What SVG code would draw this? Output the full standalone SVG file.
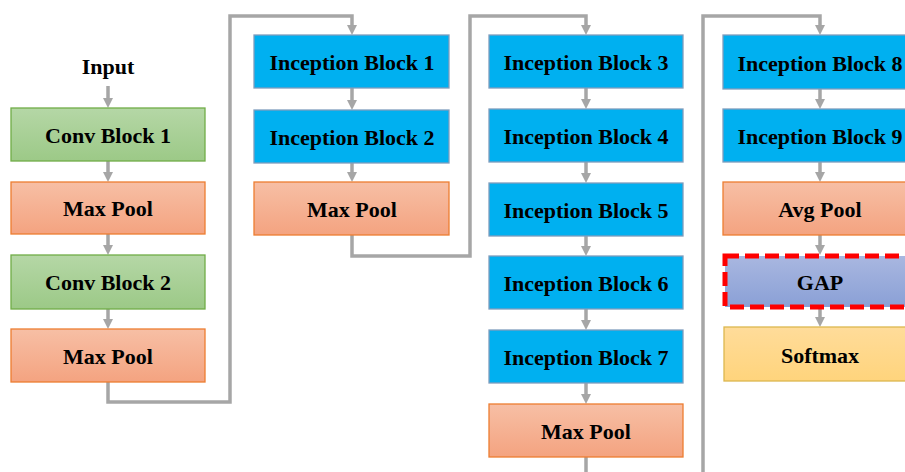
<svg xmlns="http://www.w3.org/2000/svg" width="905" height="472" viewBox="0 0 905 472">
  <defs>
    <linearGradient id="gGreen" x1="0" y1="0" x2="0" y2="1">
      <stop offset="0" stop-color="#b5d7a6"/>
      <stop offset="1" stop-color="#9cc987"/>
    </linearGradient>
    <linearGradient id="gOrange" x1="0" y1="0" x2="0" y2="1">
      <stop offset="0" stop-color="#f7bfa5"/>
      <stop offset="1" stop-color="#f4a380"/>
    </linearGradient>
    <linearGradient id="gGap" x1="0" y1="0" x2="0" y2="1">
      <stop offset="0" stop-color="#a9b7e0"/>
      <stop offset="1" stop-color="#8aa0d6"/>
    </linearGradient>
    <linearGradient id="gSoft" x1="0" y1="0" x2="0" y2="1">
      <stop offset="0" stop-color="#ffdc9a"/>
      <stop offset="1" stop-color="#ffd47c"/>
    </linearGradient>
    <marker id="arrow" markerUnits="userSpaceOnUse" markerWidth="10" markerHeight="10" refX="0" refY="5" orient="auto">
      <path d="M0,0 L10,5 L0,10 z" fill="#a6a6a6"/>
    </marker>
  </defs>
  <style>
    text { font-family: "Liberation Serif", "Times New Roman", serif; font-weight: bold; font-size: 22px; fill: #000; text-anchor: middle; }
    .conv { fill: url(#gGreen); stroke: #70ad47; stroke-width: 1.3; }
    .pool { fill: url(#gOrange); stroke: #ed7d31; stroke-width: 1.3; }
    .incep { fill: #00b0f0; stroke: #7f9dbd; stroke-width: 1.3; }
    .gap { fill: url(#gGap); stroke: #ff0000; stroke-width: 5; stroke-dasharray: 14 6; }
    .soft { fill: url(#gSoft); stroke: #dcb74f; stroke-width: 1.3; }
    .link { fill: none; stroke: #a6a6a6; stroke-width: 3.5; }
    .arr { marker-end: url(#arrow); }
  </style>

  <!-- connectors -->
  <g id="connectors">
    <path class="link arr" d="M108,86 V98"/>
    <path class="link arr" d="M108,161 V172"/>
    <path class="link arr" d="M108,234 V245"/>
    <path class="link arr" d="M108,309 V319"/>
    <path class="link arr" d="M108,382 V402 H230 V16 H352 V25"/>
    <path class="link arr" d="M352,88 V100"/>
    <path class="link arr" d="M352,163 V172"/>
    <path class="link arr" d="M352,235 V256 H470 V16 H586 V25"/>
    <path class="link arr" d="M586,88 V99"/>
    <path class="link arr" d="M586,162 V173"/>
    <path class="link arr" d="M586,236 V246"/>
    <path class="link arr" d="M586,309 V320"/>
    <path class="link arr" d="M586,383 V394"/>
    <path class="link" d="M586,457 V472"/>
    <path class="link arr" d="M703,472 V16 H820 V25"/>
    <path class="link arr" d="M820,89 V99"/>
    <path class="link arr" d="M820,162 V172"/>
    <path class="link arr" d="M820,235 V245"/>
    <path class="link arr" d="M820,307 V317"/>
  </g>

  <!-- column 1 -->
  <g id="input"><text x="108" y="74">Input</text></g>
  <g id="conv1"><rect class="conv" x="11" y="108" width="194" height="53"/><text x="108" y="143">Conv Block 1</text></g>
  <g id="pool1"><rect class="pool" x="11" y="182" width="194" height="52"/><text x="108" y="216">Max Pool</text></g>
  <g id="conv2"><rect class="conv" x="11" y="255" width="194" height="54"/><text x="108" y="290">Conv Block 2</text></g>
  <g id="pool2"><rect class="pool" x="11" y="329" width="194" height="53"/><text x="108" y="364">Max Pool</text></g>

  <!-- column 2 -->
  <g id="incep1"><rect class="incep" x="254" y="35" width="195" height="53"/><text x="352" y="70">Inception Block 1</text></g>
  <g id="incep2"><rect class="incep" x="254" y="110" width="195" height="53"/><text x="352" y="145">Inception Block 2</text></g>
  <g id="pool3"><rect class="pool" x="254" y="182" width="195" height="53"/><text x="352" y="217">Max Pool</text></g>

  <!-- column 3 -->
  <g id="incep3"><rect class="incep" x="489" y="35" width="194" height="53"/><text x="586" y="70">Inception Block 3</text></g>
  <g id="incep4"><rect class="incep" x="489" y="109" width="194" height="53"/><text x="586" y="144">Inception Block 4</text></g>
  <g id="incep5"><rect class="incep" x="489" y="183" width="194" height="53"/><text x="586" y="218">Inception Block 5</text></g>
  <g id="incep6"><rect class="incep" x="489" y="256" width="194" height="53"/><text x="586" y="291">Inception Block 6</text></g>
  <g id="incep7"><rect class="incep" x="489" y="330" width="194" height="53"/><text x="586" y="365">Inception Block 7</text></g>
  <g id="pool4"><rect class="pool" x="489" y="404" width="194" height="53"/><text x="586" y="439">Max Pool</text></g>

  <!-- column 4 -->
  <g id="incep8"><rect class="incep" x="723" y="35" width="194" height="54"/><text x="820" y="71">Inception Block 8</text></g>
  <g id="incep9"><rect class="incep" x="723" y="109" width="194" height="53"/><text x="820" y="144">Inception Block 9</text></g>
  <g id="avgpool"><rect class="pool" x="723" y="182" width="194" height="53"/><text x="820" y="217">Avg Pool</text></g>
  <g id="gap"><rect class="gap" x="725" y="256" width="194" height="51"/><text x="820" y="290">GAP</text></g>
  <g id="softmax"><rect class="soft" x="724" y="327" width="194" height="54"/><text x="820" y="363">Softmax</text></g>
</svg>
